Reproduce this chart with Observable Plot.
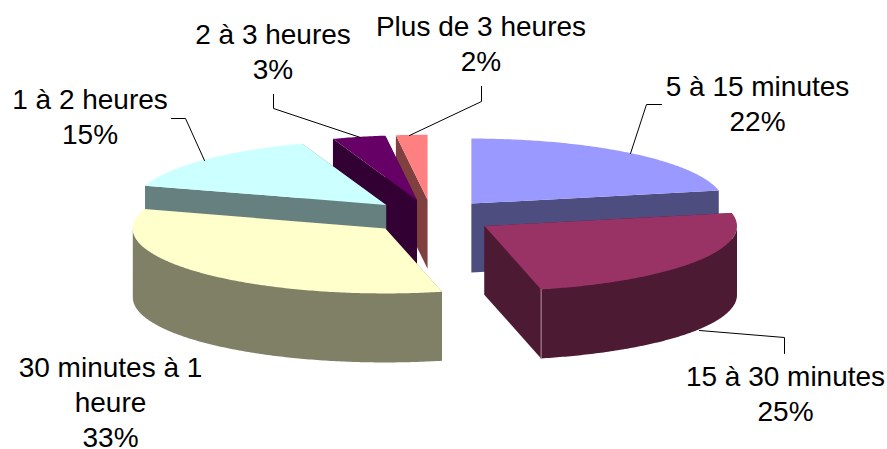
<!DOCTYPE html>
<html lang="fr">
<head>
<meta charset="utf-8">
<title>Camembert 3D</title>
<script src="https://cdn.jsdelivr.net/npm/d3@7"></script>
<script src="https://cdn.jsdelivr.net/npm/@observablehq/plot@0.6"></script>
<style>
html,body{margin:0;padding:0;background:#fff}
svg{display:block}
</style>
</head>
<body>
<div id="chart"></div>
<script>
// Data (clockwise from twelve o'clock)
const categories = ["5 à 15 minutes", "15 à 30 minutes", "30 minutes à 1\nheure", "1 à 2 heures", "2 à 3 heures", "Plus de 3 heures"];
const values = [21.8, 24.6, 33.4, 14.8, 3.4, 2.0];

// Styles
const topColors = ["#9999FF", "#993366", "#FFFFCC", "#CCFFFF", "#660066", "#FF8080"];
const wallColors = ["#4D4D80", "#4D1A33", "#808066", "#668080", "#330033", "#804040"];
const paintOrder = [0, 5, 4, 3, 2, 1];

// Pie layout (tilted ellipse, uniform explosion)
const W = 887, H = 449;
const pie = {cx: 431, cy: 216.3, rx: 252.5, ry: 65, depth: 69, ex: 63, ey: 17.1};

// Label layout: anchor (last-line baseline) and leader polyline per category
const labelX = [757, 785, 110, 89.5, 272.5, 480.5];
const labelY = [130, 420, 446, 143, 78, 70];
const leaders = [
  [[630,153],[646,104],[661,104]],
  [[699,330],[784,337],[784,353]],
  [],
  [[204,160],[185,118],[171,118]],
  [[360,137],[273,108],[273,94]],
  [[409,135],[481,101],[481,86]]
];

const total = d3.sum(values);
const cumul = d3.cumsum(values);
const rim = (s, a) => [s.cx + pie.rx * Math.sin(a), s.cy - pie.ry * Math.cos(a)];
const sweep = (s, a0, a1) => {
  const n = Math.max(2, Math.ceil((a1 - a0) * 90));
  return d3.range(n + 1).map(k => rim(s, a0 + (a1 - a0) * k / n));
};
const slices = values.map((v, i) => {
  const a0 = (cumul[i] - v) / total * 2 * Math.PI;
  const a1 = cumul[i] / total * 2 * Math.PI;
  const m = (a0 + a1) / 2;
  return {i, a0, a1, cx: pie.cx + pie.ex * Math.sin(m), cy: pie.cy - pie.ey * Math.cos(m)};
});

const drop = p => [p[0], p[1] + pie.depth];
const poly = (pts, fill) => Plot.line(pts, {x: d => d[0], y: d => d[1], fill, stroke: "none", curve: "linear-closed"});

const marks = [];
for (const i of paintOrder) {
  const s = slices[i];
  const c = [s.cx, s.cy];
  const first = rim(s, s.a0), last = rim(s, s.a1);
  marks.push(poly([c, first, drop(first), drop(c)], wallColors[i]));
  marks.push(poly([c, last, drop(last), drop(c)], wallColors[i]));
  // outer wall: only the part of the rim that faces the viewer
  const f0 = Math.max(s.a0, Math.PI / 2), f1 = Math.min(s.a1, 3 * Math.PI / 2);
  if (f1 > f0) {
    const front = sweep(s, f0, f1);
    marks.push(poly([...front, ...front.map(drop).reverse()], wallColors[i]));
  }
  marks.push(poly([c, ...sweep(s, s.a0, s.a1)], topColors[i]));
}
// thin highlight on the front corner of the 15-30 minutes slice
{
  const s = slices[1], last = rim(s, s.a1);
  marks.push(Plot.line([last, drop(last)], {x: d => d[0], y: d => d[1], stroke: "#B58CA3", strokeWidth: 1}));
}
// leaders
leaders.forEach(l => {
  if (l.length) marks.push(Plot.line(l, {x: d => d[0], y: d => d[1], stroke: "#000", strokeWidth: 1}));
});
// labels
marks.push(Plot.text(categories.map((c, i) => ({
  t: c + "\n" + Math.round(values[i]) + "%", x: labelX[i], y: labelY[i]
})), {
  x: "x", y: "y", text: "t", textAnchor: "middle", lineAnchor: "bottom",
  lineHeight: 1.25, fontSize: 28, fontFamily: "'Liberation Sans', Arial, sans-serif", fill: "#000"
}));

const chart = Plot.plot({
  width: W, height: H,
  marginTop: 0, marginRight: 0, marginBottom: 0, marginLeft: 0,
  x: {domain: [0, W], range: [0, W], axis: null},
  y: {domain: [0, H], range: [0, H], axis: null},
  style: {background: "#fff"},
  marks
});
document.getElementById("chart").appendChild(chart);
</script>
</body>
</html>
